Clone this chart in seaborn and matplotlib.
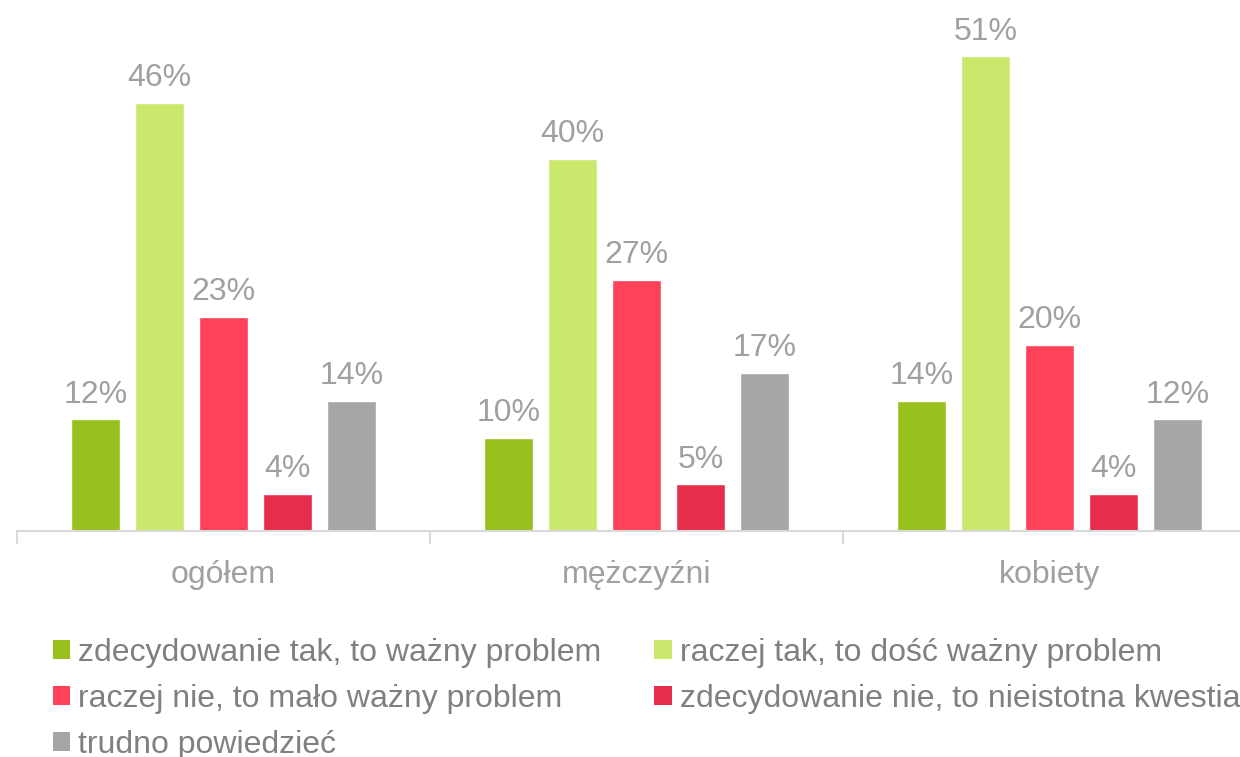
import pandas as pd
import matplotlib.pyplot as plt
import seaborn as sns
from matplotlib.patches import Patch

# =================================================================
# DATOS
# =================================================================
GRUPY = ["ogółem", "mężczyźni", "kobiety"]
ODPOWIEDZI = [
    "zdecydowanie tak, to ważny problem",
    "raczej tak, to dość ważny problem",
    "raczej nie, to mało ważny problem",
    "zdecydowanie nie, to nieistotna kwestia",
    "trudno powiedzieć",
]
OGOLEM = [12, 46, 23, 4, 14]
MEZCZYZNI = [10, 40, 27, 5, 17]
KOBIETY = [14, 51, 20, 4, 12]
KOLORY = ["#98C11E", "#CAE86B", "#FF4259", "#E62D4B", "#A6A6A6"]

SZARY_TEKST = "#A0A0A0"
SZARY_LEGENDA = "#808080"
SZARY_OS = "#D9D9D9"


def przygotuj_dane():
    wiersze = []
    for grupa, wartosci in zip(GRUPY, [OGOLEM, MEZCZYZNI, KOBIETY]):
        for odp, v in zip(ODPOWIEDZI, wartosci):
            wiersze.append({"grupa": grupa, "odpowiedz": odp, "wartosc": v})
    return pd.DataFrame(wiersze)


def rysuj(df):
    sns.set_style("white")
    plt.rcParams["font.family"] = ["Liberation Sans", "DejaVu Sans"]

    fig = plt.figure(figsize=(12.4, 7.57), dpi=100)
    # os wychodzi poza prawa krawedz obrazka (jak w oryginale)
    ax = fig.add_axes([17 / 1240, (757 - 531) / 757, 1239 / 1240, 512 / 757])

    sns.barplot(
        data=df, x="grupa", y="wartosc", hue="odpowiedz",
        order=GRUPY, hue_order=ODPOWIEDZI, palette=KOLORY,
        width=0.775, gap=0.22, saturation=1, legend=False, ax=ax,
    )

    for cont in ax.containers:
        ax.bar_label(cont, fmt="%d%%", padding=7, fontsize=23, color=SZARY_TEKST)

    ax.set_xlim(-0.5, 2.5)
    ax.set_ylim(0, 55)
    ax.set_xlabel("")
    ax.set_ylabel("")
    ax.set_yticks([])
    for s in ["top", "right", "left"]:
        ax.spines[s].set_visible(False)
    ax.spines["bottom"].set_color(SZARY_OS)
    ax.spines["bottom"].set_linewidth(1.5)

    ax.tick_params(axis="x", which="major", length=0, pad=21,
                   labelsize=23, labelcolor=SZARY_TEKST)
    ax.set_xticks([-0.5, 0.5, 1.5, 2.5], minor=True)
    ax.tick_params(axis="x", which="minor", bottom=True, length=9, width=1.5,
                   color=SZARY_OS, direction="out")

    # legenda w ukladzie wierszowym (2 kolumny); ostatni wpis uciety jak w oryginale
    uchwyty = [Patch(facecolor=c, edgecolor="none") for c in KOLORY]
    kolejnosc = [0, 2, 4, 1, 3]
    fig.legend(
        [uchwyty[i] for i in kolejnosc], [ODPOWIEDZI[i] for i in kolejnosc],
        ncol=2, loc="upper left", bbox_to_anchor=(40 / 1240, 1 - 625 / 757),
        frameon=False, fontsize=23, labelcolor=SZARY_LEGENDA,
        handlelength=0.55, handleheight=0.55, handletextpad=0.25,
        columnspacing=1.65, labelspacing=0.5, borderaxespad=0,
    )

    fig.savefig("out.png", dpi=100)
    plt.close(fig)


if __name__ == "__main__":
    rysuj(przygotuj_dane())
